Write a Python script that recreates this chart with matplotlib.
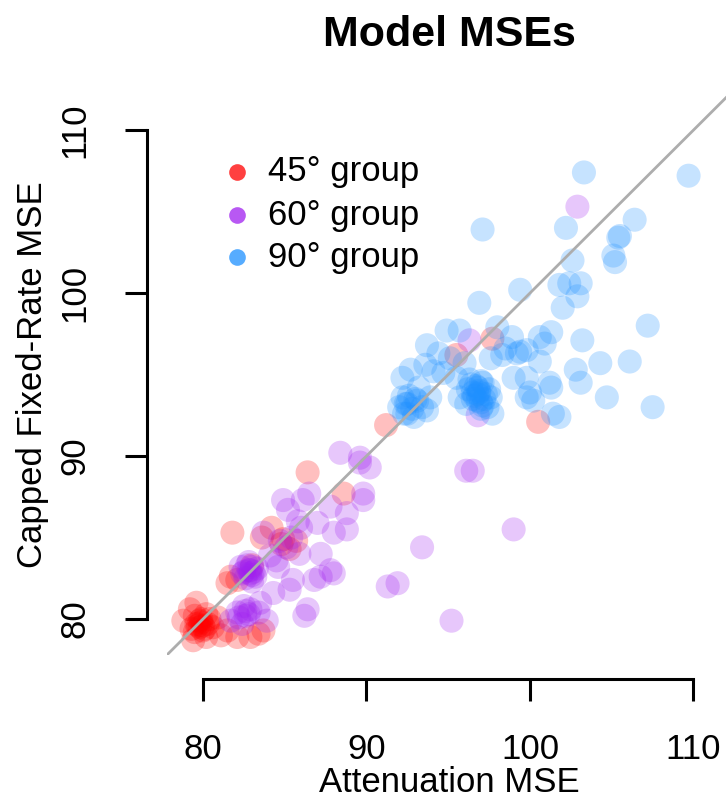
import numpy as np
import matplotlib
matplotlib.use('Agg')
import matplotlib.pyplot as plt
from matplotlib.lines import Line2D

plt.rcParams['font.family'] = ['Liberation Sans', 'DejaVu Sans']

## 45 degree group (attenuation MSE, capped fixed-rate MSE)
red_x = [79.8, 79.6, 80.0, 79.9, 79.2, 78.8, 80.2, 79.4, 80.9, 81.5, 79.6, 82.9, 83.7, 82.1,
         81.5, 82.1, 81.7, 81.8, 84.2, 85.7, 84.8, 86.4, 88.6, 91.2, 95.5, 97.7, 100.5, 80.4,
         79.5, 83.0, 79.7, 80.1, 79.9, 80.3, 79.5, 79.8, 80.0, 80.6, 79.3, 80.2, 81.1, 83.4,
         84.9, 85.3, 83.6]
red_y = [79.5, 79.7, 79.3, 79.8, 80.6, 79.9, 78.9, 78.7, 80.1, 79.3, 81.0, 78.9, 79.3, 78.9,
         82.2, 82.4, 82.6, 85.3, 85.6, 84.8, 84.6, 89.0, 87.7, 91.9, 96.2, 97.2, 92.1, 80.0,
         80.2, 83.3, 79.6, 79.4, 80.0, 79.7, 79.2, 79.9, 79.6, 79.5, 79.4, 80.3, 79.0, 79.1,
         84.9, 84.3, 85.0]

## 60 degree group
purple_x = [82.9, 83.0, 82.6, 82.8, 83.2, 82.4, 82.1, 82.9, 81.7, 82.4, 82.6, 83.9, 83.5, 84.3,
            85.3, 86.4, 86.2, 84.5, 85.1, 85.5, 85.9, 87.2, 87.2, 88.0, 83.7, 84.7, 88.0, 88.8,
            84.9, 86.1, 86.5, 87.8, 88.8, 89.8, 89.8, 88.4, 89.6, 89.6, 90.2, 96.1, 96.5, 99.0,
            93.4, 91.3, 91.9, 95.2, 102.9, 96.3, 96.8, 86.8, 87.8, 85.8,
            82.9, 83.1, 82.7, 83.0, 82.8, 83.3, 82.5, 83.0, 82.3, 82.6, 82.2, 82.8, 82.5, 83.4,
            84.1, 84.6, 85.4, 86.0, 87.0, 85.2]
purple_y = [82.8, 83.2, 82.5, 83.0, 82.6, 82.8, 80.4, 80.6, 79.9, 79.7, 80.2, 79.9, 81.0, 81.6,
            81.8, 80.6, 80.2, 83.6, 84.4, 82.4, 84.0, 84.0, 82.6, 82.8, 85.3, 84.8, 85.3, 85.5,
            87.3, 87.3, 87.7, 86.9, 86.5, 87.7, 87.3, 90.2, 89.9, 89.6, 89.3, 89.1, 89.1, 85.5,
            84.4, 82.0, 82.2, 79.9, 105.3, 97.1, 92.5, 82.4, 83.0, 86.0,
            83.0, 82.9, 83.3, 82.7, 83.5, 83.1, 82.9, 82.3, 83.2, 80.5, 80.1, 80.3, 80.8, 80.4,
            83.9, 83.2, 85.0, 85.6, 85.9, 86.7]

## 90 degree group
blue_x = [103.3, 109.7, 102.2, 106.4, 105.4, 105.5, 105.1, 105.2, 102.6, 99.4, 101.8, 102.4,
          103.1, 102.9, 102.0, 107.2, 101.3, 100.6, 103.2, 104.3, 106.1, 102.8, 103.1, 101.3,
          104.7, 107.5, 101.8, 100.0, 99.2, 99.8, 97.1, 96.9, 94.9, 95.7, 98.0, 93.7, 99.4,
          92.7, 92.2, 94.1, 94.7, 95.5, 96.3, 97.1, 99.0, 99.8, 101.2, 92.2, 93.1, 93.9, 95.7,
          96.5, 96.9, 97.6, 96.8, 96.1, 97.4, 92.0, 92.5, 93.7, 99.8, 100.2, 97.7, 101.4, 96.8,
          97.0, 96.6, 92.5, 98.3, 97.6, 100.6,
          92.4, 92.8, 93.0, 92.3, 93.4, 92.6, 92.9, 93.2, 96.9, 97.2, 96.7, 97.0, 97.3, 96.5,
          97.1, 96.8, 97.5, 96.4, 97.0, 96.2, 94.4, 95.1, 93.6, 98.5, 98.9, 100.9, 96.0]
blue_y = [107.4, 107.2, 104.0, 104.5, 103.4, 103.5, 102.3, 101.9, 102.0, 100.2, 100.5, 100.6,
          100.6, 99.8, 99.1, 98.0, 97.6, 97.3, 97.1, 95.7, 95.8, 95.3, 94.5, 94.2,
          93.6, 93.0, 92.4, 93.9, 96.3, 96.5, 103.9, 99.4, 97.7, 97.7, 97.9, 96.8, 96.4,
          95.3, 94.8, 95.2, 95.1, 94.8, 94.7, 94.5, 94.8, 94.8, 94.5, 93.6, 93.4, 93.6, 93.6,
          93.9, 94.0, 93.6, 93.4, 93.2, 93.0, 93.0, 92.6, 92.8, 93.6, 93.4, 92.6, 92.6, 93.8,
          93.3, 93.7, 93.2, 96.2, 96.0, 95.8,
          93.2, 92.9, 93.5, 92.6, 93.0, 93.7, 92.4, 94.2, 93.9, 93.5, 94.3, 94.6, 93.8, 93.5,
          93.1, 94.2, 94.1, 94.4, 92.9, 94.1, 96.3, 96.0, 95.6, 96.6, 97.3, 96.9, 95.7]

groups = ['45° group', '60° group', '90° group']
colors = ['#FF0000', '#A020F0', '#1E90FF']

fig = plt.figure(figsize=(7.26, 7.98), dpi=100)
ax = fig.add_axes([0.2300, 0.1793, 0.7928, 0.7149])

for xs, ys, c in zip([red_x, purple_x, blue_x], [red_y, purple_y, blue_y], colors):
    ax.scatter(xs, ys, s=300, color=c, alpha=0.25, edgecolors='none', zorder=2)

# identity line
ax.axline((80, 80), slope=1, color='#ADADAD', lw=2.0, zorder=3)

ax.set_xlim(77.8, 113)
ax.set_ylim(77.8, 112.8)

for s in ['top', 'right']:
    ax.spines[s].set_visible(False)
ax.spines['left'].set_position(('outward', 14.4))
ax.spines['bottom'].set_position(('outward', 17.3))
ax.spines['left'].set_bounds(80, 110)
ax.spines['bottom'].set_bounds(80, 110)
ax.spines['left'].set_linewidth(2.2)
ax.spines['bottom'].set_linewidth(2.2)

ax.set_xticks([80, 90, 100, 110])
ax.set_yticks([80, 90, 100, 110])
ax.tick_params(length=16, width=2.2, labelsize=25)
ax.tick_params(axis='x', pad=23)
ax.tick_params(axis='y', pad=24, labelrotation=90)
for lab in ax.get_yticklabels():
    lab.set_va('center')

fig.text(449 / 726, 1 - 782 / 798, 'Attenuation MSE', ha='center', va='center', fontsize=25)
fig.text(33 / 726, 1 - 375 / 798, 'Capped Fixed-Rate MSE', ha='center', va='center',
         rotation=90, fontsize=25)
fig.text(449 / 726, 1 - 46 / 798, 'Model MSEs', ha='center', va='baseline',
         fontsize=31, fontweight='bold')

# legend drawn by hand
rows = [172, 215, 257]
for g, c, r in zip(groups, colors, rows):
    fig.add_artist(Line2D([237 / 726], [1 - r / 798], marker='o', ls='', color=c,
                          alpha=0.75, markersize=12, markeredgewidth=0,
                          transform=fig.transFigure))
    fig.text(268 / 726, 1 - r / 798, g, ha='left', va='center', fontsize=25)

plt.savefig('out.png', dpi=100)
